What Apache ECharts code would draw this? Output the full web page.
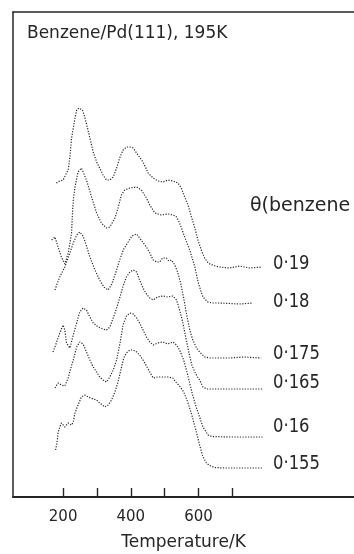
<!DOCTYPE html>
<html>
<head>
<meta charset="utf-8">
<script src="https://cdn.jsdelivr.net/npm/echarts@6/dist/echarts.min.js"></script>
<style>
  html, body { margin: 0; padding: 0; background: #fff; }
  #chart { width: 354px; height: 554px; }
</style>
</head>
<body>
<div id="chart"></div>
<script>
// Thermal desorption spectra of benzene from Pd(111), adsorbed at 195 K.
// Each spectrum: [temperature (K), desorption rate above its own baseline (arb. units)].

const coverageLabels = ['0·19', '0·18', '0·175', '0·165', '0·16', '0·155'];
// vertical offset of each trace (arb. units)
const traceOffsets = [23.0, 19.4, 13.9, 10.8, 6.0, 2.9];

const rate019 = [
  [180, 8.4], [190, 8.6], [200, 8.7], [210, 9.4], [215, 9.7], [220, 11.0], [225, 12.9], [230, 13.9],
  [235, 14.9], [240, 15.7], [247, 15.9], [257, 15.7], [264, 15.0], [272, 13.9], [279, 12.9], [289, 11.5],
  [299, 10.5], [308, 9.9], [318, 9.2], [328, 8.7], [338, 8.7], [348, 9.0], [358, 9.9], [367, 10.9],
  [377, 11.7], [387, 12.0], [397, 12.0], [407, 11.9], [421, 11.2], [436, 10.5], [451, 9.4], [466, 8.9],
  [480, 8.6], [495, 8.5], [510, 8.7], [525, 8.6], [539, 8.4], [549, 7.9], [559, 7.0], [569, 6.2],
  [579, 5.0], [589, 3.9], [598, 2.7], [603, 2.2], [610, 1.5], [618, 0.9], [626, 0.5], [633, 0.3],
  [650, 0.1], [662, 0.0], [692, -0.1], [721, 0.1], [751, -0.1], [785, 0.0]
];

const rate018 = [
  [166, 6.3], [176, 6.6], [185, 5.6], [195, 4.6], [205, 3.9], [215, 5.0], [220, 6.0], [225, 7.0],
  [227, 8.6], [230, 10.3], [235, 11.6], [244, 13.1], [254, 13.5], [269, 12.3], [284, 10.6], [299, 9.0],
  [313, 8.0], [328, 7.5], [338, 7.6], [353, 8.5], [362, 9.5], [372, 10.8], [382, 11.3], [397, 11.5],
  [417, 11.6], [431, 11.3], [446, 10.5], [456, 9.8], [471, 9.0], [490, 8.8], [510, 8.9], [525, 8.8],
  [535, 8.6], [544, 8.0], [559, 6.6], [574, 5.3], [589, 3.6], [598, 2.2], [603, 1.6], [613, 0.6],
  [627, 0.1], [640, 0.0], [662, 0.0], [721, -0.1], [760, 0.0]
];

const rate0175 = [
  [176, 6.8], [183, 7.5], [190, 8.1], [205, 9.1], [220, 10.5], [230, 11.5], [240, 12.3], [249, 12.6],
  [259, 12.2], [269, 11.2], [279, 10.1], [294, 8.8], [308, 7.8], [320, 7.1], [333, 6.8], [344, 7.4],
  [356, 8.6], [367, 9.8], [379, 10.9], [392, 11.6], [403, 12.2], [417, 12.4], [426, 12.0], [446, 11.1],
  [456, 10.5], [466, 9.8], [476, 9.6], [485, 9.6], [494, 10.0], [505, 10.0], [512, 9.7], [520, 9.8],
  [530, 9.3], [538, 8.6], [547, 7.5], [556, 6.0], [565, 4.3], [574, 2.8], [583, 1.8], [594, 1.0],
  [603, 0.6], [618, 0.1], [633, 0.0], [692, 0.0], [736, 0.1], [785, 0.0]
];

const rate0165 = [
  [170, 3.7], [178, 4.4], [190, 5.6], [200, 6.4], [205, 5.9], [210, 4.6], [220, 4.1], [230, 5.4],
  [240, 6.6], [249, 7.7], [259, 8.1], [269, 7.9], [279, 7.2], [289, 6.6], [303, 6.2], [318, 6.0],
  [328, 5.9], [338, 6.2], [348, 7.1], [358, 8.1], [367, 9.1], [377, 10.3], [387, 11.2], [397, 11.7],
  [407, 11.9], [417, 11.7], [426, 10.9], [436, 10.1], [446, 9.5], [456, 9.1], [466, 8.9], [479, 9.2],
  [494, 9.3], [509, 9.2], [524, 9.3], [535, 8.9], [544, 7.9], [553, 6.7], [562, 5.2], [571, 3.7],
  [580, 2.4], [589, 1.7], [597, 1.2], [603, 0.9], [613, 0.2], [624, 0.0], [692, 0.0], [789, 0.0]
];

const rate016 = [
  [176, 4.9], [185, 5.4], [195, 5.2], [205, 5.1], [215, 5.9], [221, 6.7], [230, 7.7], [240, 9.0],
  [249, 9.5], [259, 9.3], [269, 8.5], [279, 7.7], [289, 7.0], [299, 6.5], [308, 6.0], [318, 5.7],
  [328, 5.5], [338, 6.0], [348, 6.7], [358, 7.7], [367, 9.2], [377, 11.2], [387, 12.1], [397, 12.4],
  [407, 12.3], [417, 11.9], [426, 11.4], [436, 10.7], [446, 10.0], [456, 9.5], [466, 9.2], [479, 9.4],
  [494, 9.5], [509, 9.3], [524, 9.5], [535, 9.2], [544, 8.7], [556, 7.7], [568, 6.2], [580, 4.5],
  [592, 3.1], [603, 2.0], [613, 1.0], [628, 0.2], [639, 0.05], [692, 0.0], [789, 0.0]
];

const rate0155 = [
  [178, 1.8], [183, 2.8], [185, 3.5], [190, 4.1], [195, 4.5], [200, 4.3], [205, 4.1], [215, 4.5],
  [225, 4.3], [230, 4.6], [235, 5.5], [244, 6.3], [254, 7.1], [264, 7.3], [274, 7.1], [289, 6.9],
  [299, 6.8], [308, 6.5], [323, 6.1], [333, 6.3], [343, 6.8], [353, 7.6], [362, 8.6], [372, 10.0],
  [379, 11.0], [387, 11.5], [397, 11.8], [407, 11.8], [417, 11.6], [426, 11.3], [436, 10.8], [446, 10.2],
  [456, 9.6], [466, 9.0], [479, 9.1], [494, 9.1], [509, 9.1], [524, 9.0], [535, 8.5], [544, 8.2],
  [556, 7.6], [568, 6.6], [580, 5.3], [592, 3.8], [603, 2.3], [612, 1.2], [623, 0.5], [633, 0.25],
  [647, 0.05], [677, 0.0], [736, 0.0], [789, 0.0]
];

// temperature axis ticks and labels
const tickTemps = [200, 300, 400, 500, 600, 700];
const labelTemps = [200, 400, 600];

const traces = [rate019, rate018, rate0175, rate0165, rate016, rate0155];

const ink = '#262626';
const mainFont = "'DejaVu Sans', sans-serif";

const T_MIN = 52, T_MAX = 1059;

const chart = echarts.init(document.getElementById('chart'), null, { renderer: 'canvas' });

const series = traces.map((pts, i) => ({
  type: 'line',
  name: coverageLabels[i],
  xAxisIndex: 0,
  data: pts.map(p => [p[0], traceOffsets[i] + p[1]]),
  symbol: 'none',
  smooth: false,
  silent: true,
  lineStyle: { color: ink, width: 1.2, type: [1.2, 1.5] }
}));

// coverage labels beside the trace tails (narrow lettering)
const labelY = [264, 302, 354, 383, 427, 464];
const labelText = coverageLabels.map((t, i) => ({
  type: 'text',
  x: 273,
  y: labelY[i],
  scaleX: 0.82,
  style: { text: t, font: "20px " + mainFont, fill: ink, verticalAlign: 'middle', align: 'left' }
}));

chart.setOption({
  animation: false,
  backgroundColor: '#fff',
  grid: { left: 13, top: 12, right: 0, bottom: 57, outerBoundsMode: 'none', containLabel: false },
  xAxis: [
    {
      type: 'value',
      position: 'bottom',
      min: T_MIN, max: T_MAX,
      splitLine: { show: false },
      axisLine: { show: true, lineStyle: { color: ink, width: 1.8 } },
      axisTick: { show: true, inside: true, length: 9, customValues: tickTemps, lineStyle: { color: ink, width: 1.4 } },
      axisLabel: { show: true, customValues: labelTemps, margin: 13, color: ink, fontFamily: 'DejaVu Sans', fontSize: 15 },
      name: 'Temperature/K',
      nameLocation: 'middle',
      nameGap: 37,
      nameTextStyle: { color: ink, fontFamily: 'DejaVu Sans', fontSize: 17 }
    },
    {
      type: 'value',
      position: 'top',
      min: T_MIN, max: T_MAX,
      splitLine: { show: false },
      axisLine: { show: true, lineStyle: { color: ink, width: 1.5 } },
      axisTick: { show: false },
      axisLabel: { show: false }
    }
  ],
  yAxis: {
    type: 'value',
    min: 0, max: 48.5,
    axisLine: { show: true, lineStyle: { color: ink, width: 1.5 } },
    axisTick: { show: false },
    axisLabel: { show: false },
    splitLine: { show: false }
  },
  series: series,
  graphic: [
    {
      type: 'text', left: 27, top: 25,
      style: { text: 'Benzene/Pd(111), 195K', font: "17px " + mainFont, fill: ink }
    },
    {
      type: 'text', left: 250, top: 197,
      style: { text: 'θ(benzene', font: "19px " + mainFont, fill: ink }
    }
  ].concat(labelText)
});
</script>
</body>
</html>
